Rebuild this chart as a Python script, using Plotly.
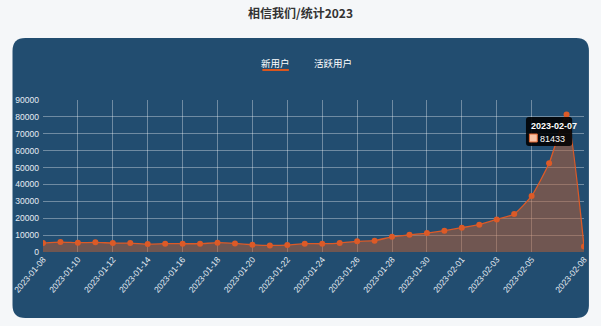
import plotly.graph_objects as go

dates = ["2023-01-08","2023-01-09","2023-01-10","2023-01-11","2023-01-12","2023-01-13","2023-01-14",
         "2023-01-15","2023-01-16","2023-01-17","2023-01-18","2023-01-19","2023-01-20","2023-01-21",
         "2023-01-22","2023-01-23","2023-01-24","2023-01-25","2023-01-26","2023-01-27","2023-01-28",
         "2023-01-29","2023-01-30","2023-01-31","2023-02-01","2023-02-02","2023-02-03","2023-02-04",
         "2023-02-05","2023-02-06","2023-02-07","2023-02-08"]
new_users = [5300, 5900, 5500, 5700, 5300, 5300, 4700,
             4900, 4900, 4900, 5500, 5100, 4300, 3900,
             4100, 4900, 4900, 5300, 6300, 6700, 9000,
             10200, 11200, 12600, 14400, 16200, 19300, 22500,
             33200, 52500, 81433, 3300]
tick_dates = ["2023-01-08","2023-01-10","2023-01-12","2023-01-14","2023-01-16","2023-01-18",
              "2023-01-20","2023-01-22","2023-01-24","2023-01-26","2023-01-28","2023-01-30",
              "2023-02-01","2023-02-03","2023-02-05","2023-02-08"]
y_ticks = [0, 10000, 20000, 30000, 40000, 50000, 60000, 70000, 80000, 90000]
title_text = "相信我们/统计2023"
tabs = ["新用户", "活跃用户"]
tip_date = "2023-02-07"
tip_value = 81433

W, H = 601, 326
L, R, T, B = 38, 588, 100, 252  # plot area in pixels


def px(x):
    return (x - L) / (R - L)


def py(y):
    return (B - y) / (B - T)


def rounded_rect(x0, y0, x1, y1, r):
    rx = r / (R - L)
    ry = r / (B - T)
    X0, X1 = px(x0), px(x1)
    Y0, Y1 = py(y0), py(y1)
    return (f"M {X0+rx},{Y0} L {X1-rx},{Y0} Q {X1},{Y0} {X1},{Y0-ry} "
            f"L {X1},{Y1+ry} Q {X1},{Y1} {X1-rx},{Y1} L {X0+rx},{Y1} "
            f"Q {X0},{Y1} {X0},{Y1+ry} L {X0},{Y0-ry} Q {X0},{Y0} {X0+rx},{Y0} Z")


fig = go.Figure()
fig.add_trace(go.Scatter(
    x=dates, y=new_users, mode="lines+markers",
    line=dict(color="#DC5A27", width=1.3, shape="spline", smoothing=0.5),
    marker=dict(color="#DC5A27", size=6),
    fill="tozeroy", fillcolor="rgba(190,95,50,0.5)",
    hoverinfo="skip", showlegend=False,
))

shapes = [
    dict(type="path", xref="paper", yref="paper", path=rounded_rect(7, 38, 593, 318, 13),
         fillcolor="#224D70", line=dict(width=0), layer="below"),
    dict(type="line", xref="paper", yref="paper", x0=px(261), x1=px(288), y0=py(70), y1=py(70),
         line=dict(color="#D9561E", width=2)),
    dict(type="path", xref="paper", yref="paper", path=rounded_rect(529, 117, 576, 146, 3),
         fillcolor="rgba(0,0,0,0.88)", line=dict(width=0)),
    dict(type="rect", xref="paper", yref="paper", x0=px(532.5), x1=px(540.5), y0=py(134), y1=py(142),
         fillcolor="#F7C3A6", line=dict(color="#E0642E", width=1)),
]

annotations = [
    dict(text=f"<b>{title_text}</b>", xref="paper", yref="paper", x=px(300), y=py(12),
         showarrow=False, font=dict(family="Noto Sans CJK SC", size=12, color="#333333"),
         xanchor="center", yanchor="middle"),
    dict(text=tabs[0], xref="paper", yref="paper", x=px(274), y=py(63), showarrow=False,
         font=dict(family="Noto Sans CJK SC", size=9.5, color="#FFFFFF"), xanchor="center", yanchor="middle"),
    dict(text=tabs[1], xref="paper", yref="paper", x=px(333), y=py(63), showarrow=False,
         font=dict(family="Noto Sans CJK SC", size=9.5, color="#FFFFFF"), xanchor="center", yanchor="middle"),
    dict(text=f"<b>{tip_date}</b>", xref="paper", yref="paper", x=px(532), y=py(126), showarrow=False,
         font=dict(family="Liberation Sans", size=9, color="#FFFFFF"), xanchor="left", yanchor="middle"),
    dict(text=f"{tip_value}", xref="paper", yref="paper", x=px(541), y=py(138.5), showarrow=False,
         font=dict(family="Liberation Sans", size=9, color="#FFFFFF"), xanchor="left", yanchor="middle"),
]

fig.update_layout(
    width=W, height=H,
    margin=dict(l=L, r=W - R, t=T, b=H - B),
    paper_bgcolor="#F5F7F9",
    plot_bgcolor="rgba(0,0,0,0)",
    shapes=shapes, annotations=annotations,
    xaxis=dict(type="category", range=[0, len(dates) - 1], tickvals=tick_dates, ticktext=tick_dates,
               tickangle=-50, showgrid=True, gridcolor="rgba(255,255,255,0.35)", gridwidth=1,
               zeroline=False, showline=False, ticks="",
               tickfont=dict(family="Liberation Sans", size=8.5, color="#E6ECF2")),
    yaxis=dict(range=[0, 90000], tickvals=y_ticks, ticktext=[str(v) for v in y_ticks],
               showgrid=True, gridcolor="rgba(255,255,255,0.35)", gridwidth=1,
               zeroline=False, showline=False, ticks="", ticklabelstandoff=3,
               tickfont=dict(family="Liberation Sans", size=8.5, color="#E6ECF2")),
)

fig.write_html("out.html")
